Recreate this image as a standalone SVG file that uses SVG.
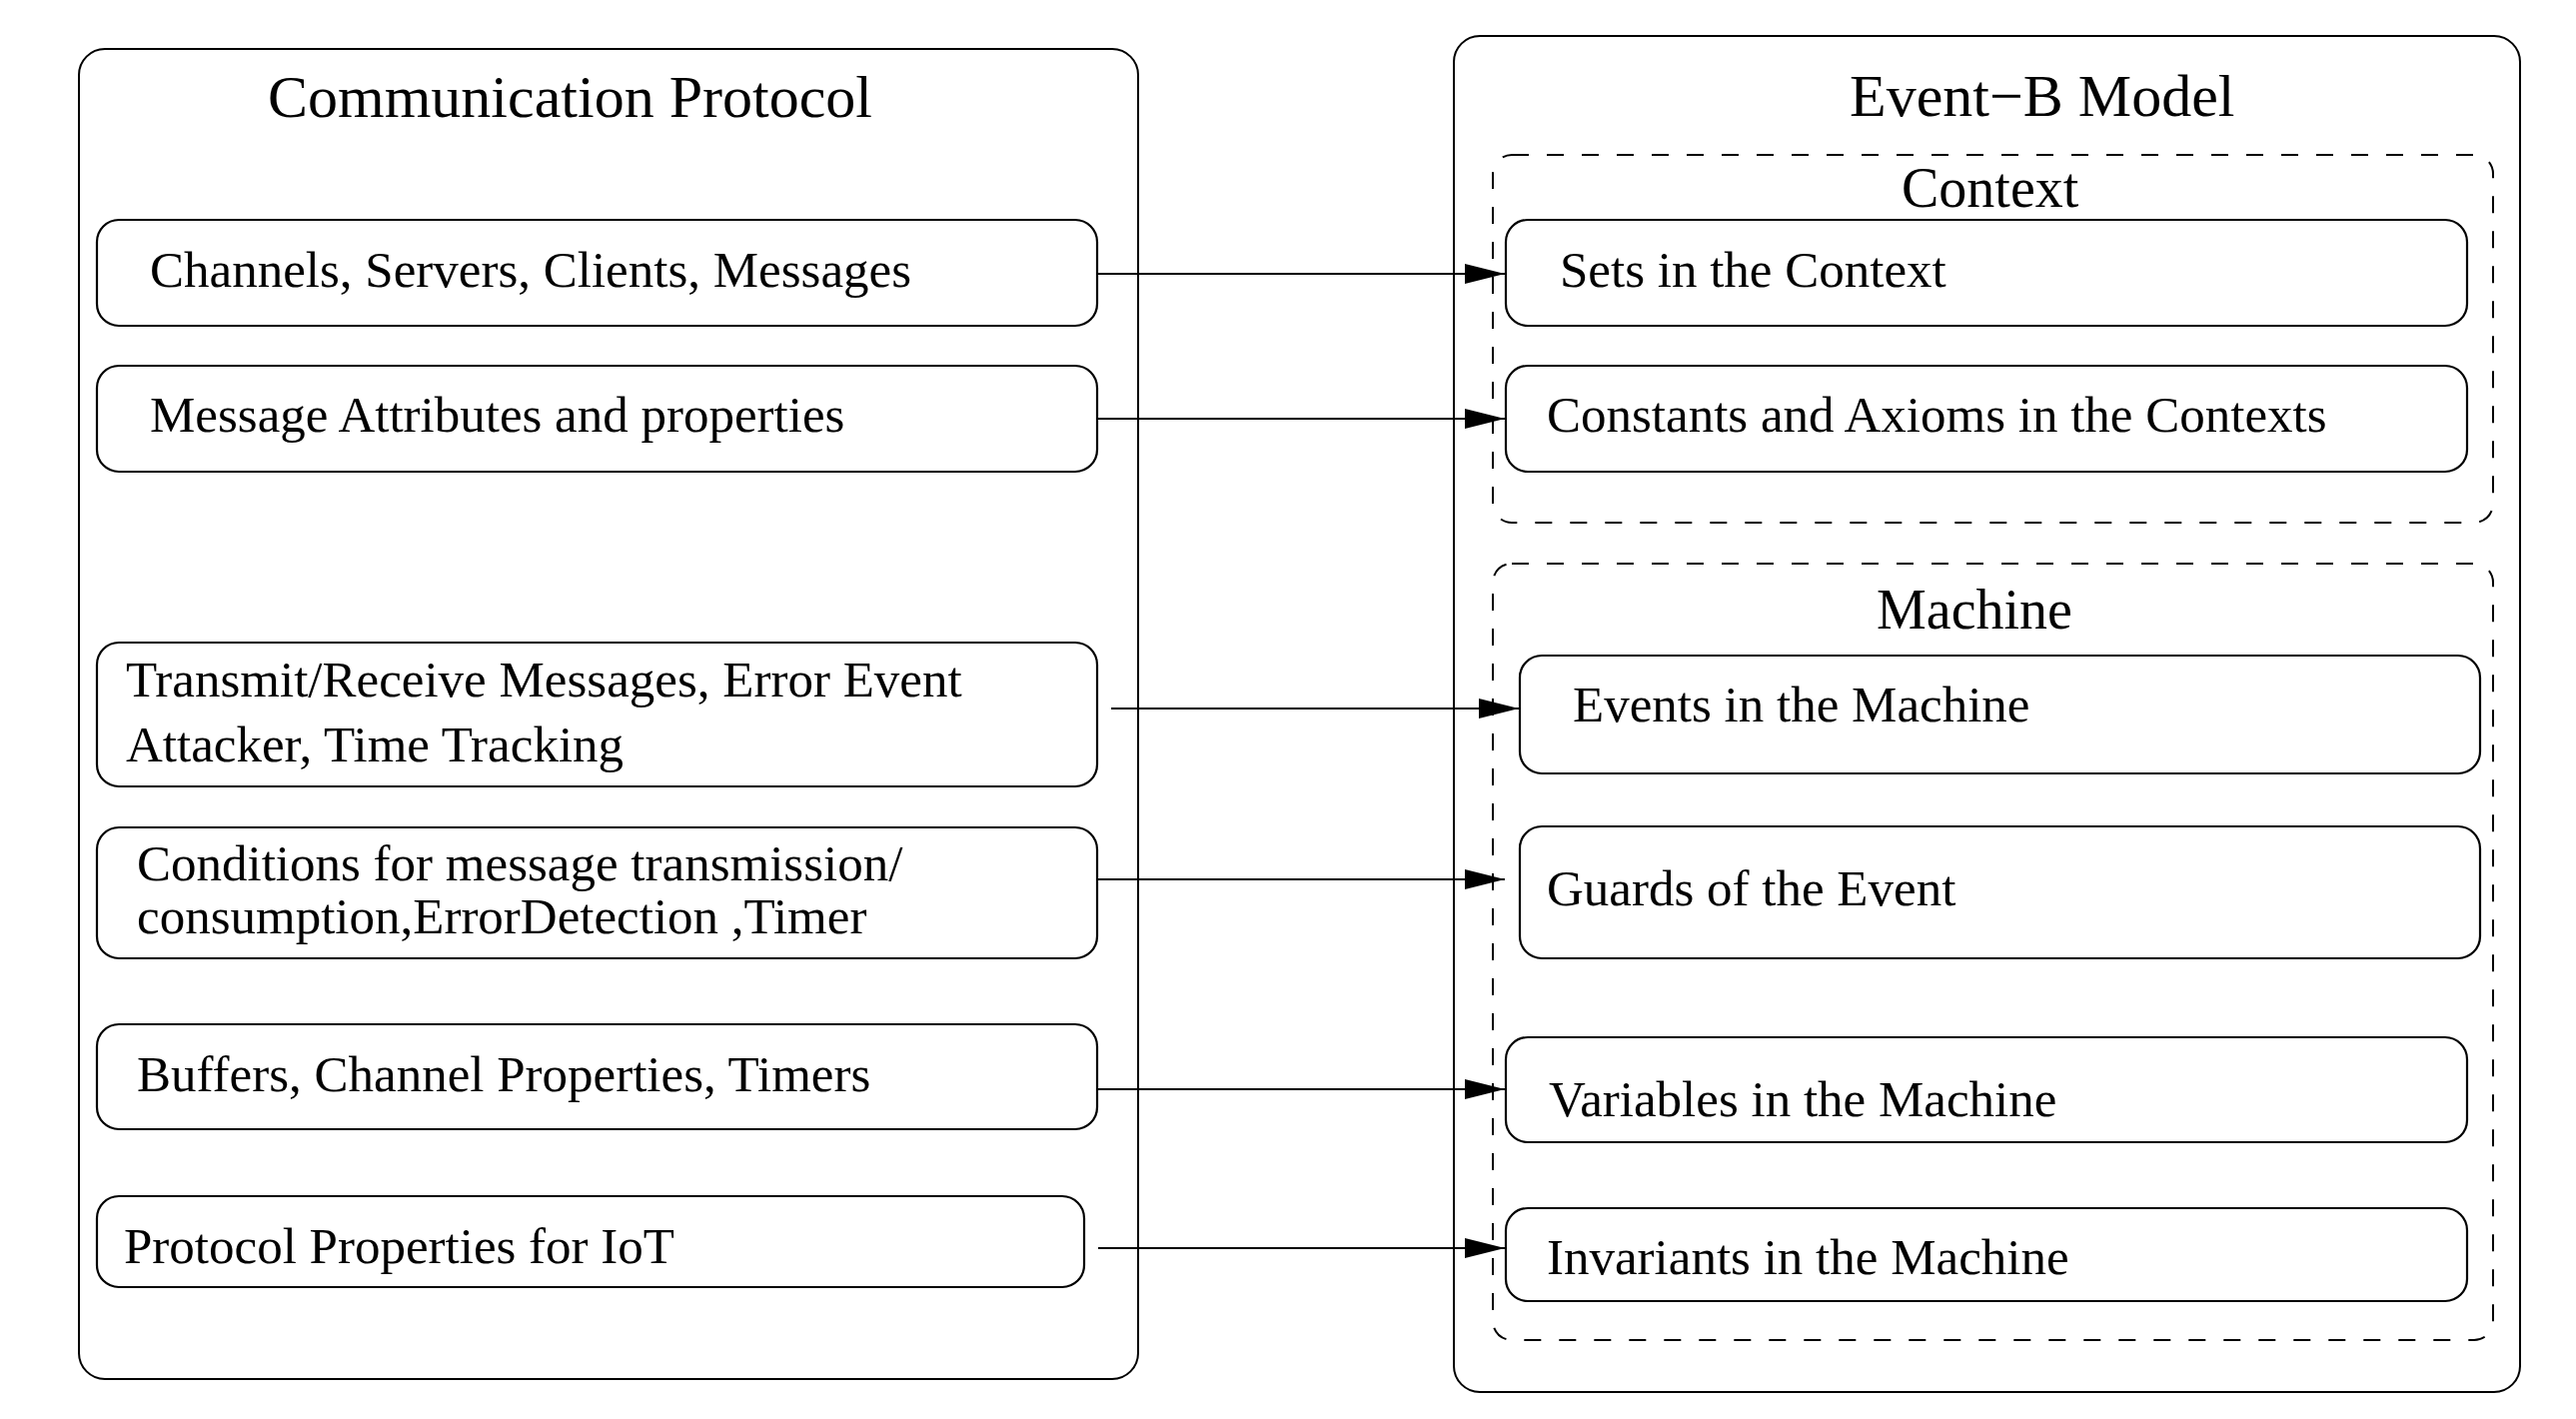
<svg xmlns="http://www.w3.org/2000/svg" width="2578" height="1420" viewBox="0 0 2578 1420">
<style>
  .bg { fill: #ffffff; }
  .outer { fill: none; stroke: #000; stroke-width: 2; }
  .dash { fill: none; stroke: #000; stroke-width: 2; stroke-dasharray: 17 18; }
  .box { fill: #ffffff; stroke: #000; stroke-width: 2.2; }
  .t { font-family: "Liberation Serif", "Times New Roman", serif; font-size: 51px; fill: #000; }
  .title { font-family: "Liberation Serif", "Times New Roman", serif; font-size: 60px; fill: #000; }
  .sub { font-family: "Liberation Serif", "Times New Roman", serif; font-size: 56px; fill: #000; }
  .conn { stroke: #000; stroke-width: 2; fill: none; marker-end: url(#arrow); }
</style>
<defs>
  <marker id="arrow" viewBox="0 0 40 20" refX="40" refY="10" markerWidth="40" markerHeight="20" markerUnits="userSpaceOnUse" orient="auto">
    <path d="M0,0 L40,10 L0,20 z" fill="#000"/>
  </marker>
</defs>
<rect class="bg" x="0" y="0" width="2578" height="1420"/>

<g id="communication-protocol">
  <rect class="outer" x="79" y="49" width="1060" height="1331" rx="26" ry="26"/>
  <text class="title" x="268" y="117">Communication Protocol</text>
</g>

<g id="event-b-model">
  <rect class="outer" x="1455" y="36" width="1067" height="1357" rx="26" ry="26"/>
  <text class="title" x="1851" y="116">Event−B Model</text>
</g>

<g id="context">
  <rect class="dash" x="1494" y="155" width="1001" height="368" rx="19" ry="19"/>
  <text class="sub" x="1903" y="207">Context</text>
</g>

<g id="machine">
  <rect class="dash" x="1494" y="564" width="1001" height="777" rx="19" ry="19"/>
  <text class="sub" x="1878" y="629">Machine</text>
</g>

<g id="channels">
  <rect class="box" x="97" y="220" width="1001" height="106" rx="22" ry="22"/>
  <text class="t" x="150" y="287">Channels, Servers, Clients, Messages</text>
</g>
<g id="message-attributes">
  <rect class="box" x="97" y="366" width="1001" height="106" rx="22" ry="22"/>
  <text class="t" x="150" y="432">Message Attributes and properties</text>
</g>
<g id="transmit-receive">
  <rect class="box" x="97" y="643" width="1001" height="144" rx="22" ry="22"/>
  <text class="t" x="126" y="697">Transmit/Receive Messages, Error Event</text>
  <text class="t" x="126" y="762">Attacker, Time Tracking</text>
</g>
<g id="conditions">
  <rect class="box" x="97" y="828" width="1001" height="131" rx="22" ry="22"/>
  <text class="t" x="137" y="881">Conditions for message transmission/</text>
  <text class="t" x="137" y="934">consumption,ErrorDetection ,Timer</text>
</g>
<g id="buffers">
  <rect class="box" x="97" y="1025" width="1001" height="105" rx="22" ry="22"/>
  <text class="t" x="137" y="1092">Buffers, Channel Properties, Timers</text>
</g>
<g id="protocol-properties">
  <rect class="box" x="97" y="1197" width="988" height="91" rx="22" ry="22"/>
  <text class="t" x="124" y="1264">Protocol Properties for IoT</text>
</g>

<g id="sets">
  <rect class="box" x="1507" y="220" width="962" height="106" rx="22" ry="22"/>
  <text class="t" x="1561" y="287">Sets in the Context</text>
</g>
<g id="constants-axioms">
  <rect class="box" x="1507" y="366" width="962" height="106" rx="22" ry="22"/>
  <text class="t" x="1548" y="432">Constants and Axioms in the Contexts</text>
</g>
<g id="events">
  <rect class="box" x="1521" y="656" width="961" height="118" rx="22" ry="22"/>
  <text class="t" x="1574" y="722">Events in the Machine</text>
</g>
<g id="guards">
  <rect class="box" x="1521" y="827" width="961" height="132" rx="22" ry="22"/>
  <text class="t" x="1548" y="906">Guards of the Event</text>
</g>
<g id="variables">
  <rect class="box" x="1507" y="1038" width="962" height="105" rx="22" ry="22"/>
  <text class="t" x="1550" y="1117">Variables in the Machine</text>
</g>
<g id="invariants">
  <rect class="box" x="1507" y="1209" width="962" height="93" rx="22" ry="22"/>
  <text class="t" x="1548" y="1275">Invariants in the Machine</text>
</g>

<g id="connectors">
  <line class="conn" x1="1098" y1="274" x2="1506" y2="274"/>
  <line class="conn" x1="1098" y1="419" x2="1506" y2="419"/>
  <line class="conn" x1="1112" y1="709" x2="1520" y2="709"/>
  <line class="conn" x1="1098" y1="880" x2="1506" y2="880"/>
  <line class="conn" x1="1098" y1="1090" x2="1506" y2="1090"/>
  <line class="conn" x1="1099" y1="1249" x2="1506" y2="1249"/>
</g>
</svg>
